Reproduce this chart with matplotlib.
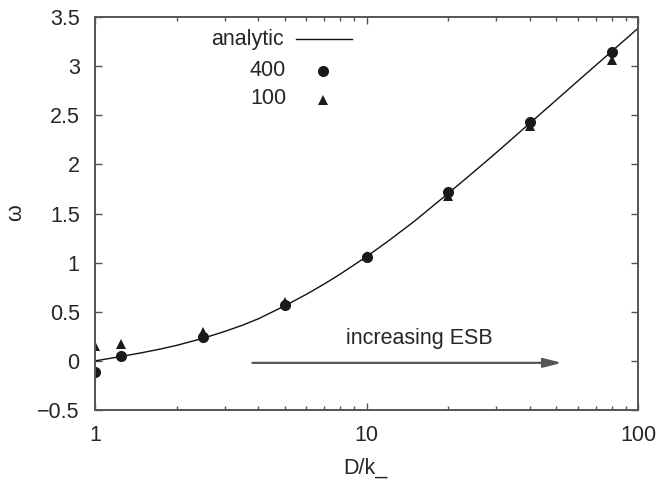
import numpy as np
import matplotlib
matplotlib.use("Agg")
import matplotlib.pyplot as plt
from matplotlib.ticker import FixedLocator, FuncFormatter, LogLocator, NullFormatter

plt.rcParams['font.family'] = ['Liberation Sans', 'DejaVu Sans']

# values
d_k = [1, 1.25, 2.5, 5, 10, 20, 40, 80]
omega_400 = [-0.11, 0.05, 0.24, 0.57, 1.06, 1.715, 2.435, 3.14]
omega_100 = [0.15, 0.17, 0.29, 0.60, 1.07, 1.68, 2.39, 3.06]

# analytic curve
curve_x = [1, 1.25, 1.5, 1.75, 2, 2.5, 3, 3.5, 4, 5, 6, 7, 8, 10, 12, 15, 20,
           25, 30, 40, 50, 60, 70, 80, 90, 100]
curve_y = [0.0, 0.045, 0.085, 0.122, 0.158, 0.230, 0.299, 0.364, 0.429, 0.560, 0.677,
           0.784, 0.883, 1.061, 1.218, 1.421, 1.705, 1.93, 2.117, 2.42, 2.655, 2.848,
           3.01, 3.15, 3.274, 3.385]

y_ticks = [-0.5, 0, 0.5, 1, 1.5, 2, 2.5, 3, 3.5]
x_ticks = [1, 10, 100]

TEXT = '#262626'
AXC = '#555555'
FS = 15.5

fig = plt.figure(figsize=(6.57, 4.80), dpi=100)
ax = fig.add_axes([0.1446, 0.1458, 0.8265, 0.8188])

ax.plot(curve_x, curve_y, color='#111111', lw=1.0)
ax.plot(d_k, omega_100, '^', color='#1a1a1a', ms=7.2, mew=0)
ax.plot(d_k, omega_400, 'o', color='#1a1a1a', ms=8.0, mew=0)

ax.set_xscale('log')
ax.set_xlim(1, 100)
ax.set_ylim(-0.5, 3.5)
ax.xaxis.set_major_locator(FixedLocator(x_ticks))
ax.xaxis.set_major_formatter(FuncFormatter(lambda v, p: '%g' % v))
ax.xaxis.set_minor_locator(LogLocator(base=10, subs=np.arange(2, 10)))
ax.xaxis.set_minor_formatter(NullFormatter())
ax.yaxis.set_major_locator(FixedLocator(y_ticks))
ax.yaxis.set_major_formatter(FuncFormatter(lambda v, p: ('%g' % v).replace('-', '\u2212')))

ax.tick_params(which='both', direction='in', top=True, right=True, color=AXC,
               labelcolor=TEXT, labelsize=FS)
ax.tick_params(axis='x', which='major', length=5, width=1, pad=11)
ax.tick_params(axis='x', which='minor', length=3, width=1)
ax.tick_params(axis='y', which='major', length=5, width=1, pad=11)
for s in ax.spines.values():
    s.set_color(AXC)
    s.set_linewidth(1.4)

ax.set_xlabel('D/k_', fontsize=FS, color=TEXT, va='center')
ax.set_ylabel('\u03c9', fontsize=FS, color=TEXT, va='center')
ax.xaxis.set_label_coords(0.497, -0.1476)
ax.yaxis.set_label_coords(-0.1455, 0.501)

# key, drawn by hand so labels sit right-aligned before the symbols
tr = ax.transAxes
ax.text(0.348, 0.943, 'analytic', transform=tr, ha='right', va='center', fontsize=FS, color=TEXT)
ax.plot([0.370, 0.473], [0.943, 0.943], transform=tr, color='#111111', lw=1.0)
ax.text(0.352, 0.8626, '400', transform=tr, ha='right', va='center', fontsize=FS, color=TEXT)
ax.plot([0.4204], [0.8626], 'o', transform=tr, color='#1a1a1a', ms=8.0, mew=0)
ax.text(0.352, 0.7926, '100', transform=tr, ha='right', va='center', fontsize=FS, color=TEXT)
ax.plot([0.4204], [0.790], '^', transform=tr, color='#1a1a1a', ms=7.2, mew=0)

# arrow annotation
arrow_from = (3.80, -0.02)
arrow_to = (52.4, -0.02)
ax.annotate('', xy=arrow_to, xytext=arrow_from,
            arrowprops=dict(arrowstyle='-|>,head_length=1.1,head_width=0.28',
                            color=AXC, lw=1.6, shrinkA=0, shrinkB=0))
ax.text(15.7, 0.225, 'increasing ESB', ha='center', va='center', fontsize=FS, color=TEXT)

fig.savefig('out.png', dpi=100)
